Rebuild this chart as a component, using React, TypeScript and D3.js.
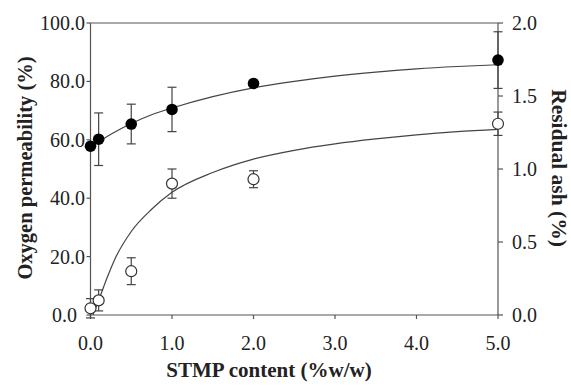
import { useEffect, useRef } from 'react';
import * as d3 from 'd3';

// STMP content (%w/w) for the measured samples
const stmp = [0, 0.1, 0.5, 1.0, 2.0, 5.0];
// Oxygen permeability (%), left axis
const oxygenPerm = [57.8, 60.2, 65.4, 70.4, 79.3, 87.3];
const oxygenErr = [0.8, 9.0, 6.8, 7.6, 1.0, 9.7];
// Residual ash (%), right axis
const residualAsh = [0.046, 0.1, 0.3, 0.9, 0.93, 1.31];
const ashErr = [0.066, 0.072, 0.092, 0.1, 0.058, 0.08];

// fitted curves
const oxygenFitX = [0, 0.1, 0.25, 0.5, 0.75, 1, 1.5, 2, 2.5, 3, 3.5, 4, 4.5, 5];
const oxygenFitY = [57.3, 59.3, 61.9, 65.6, 68.6, 70.9, 74.8, 77.8, 80.0, 81.8, 83.2, 84.3, 85.1, 85.7];
const ashFitX = [0.03, 0.1, 0.2, 0.3, 0.5, 0.75, 1, 1.5, 2, 2.5, 3, 3.5, 4, 4.5, 5];
const ashFitY = [0, 0.1, 0.25, 0.384, 0.572, 0.724, 0.84, 0.976, 1.068, 1.128, 1.172, 1.206, 1.234, 1.256, 1.272];

const xTicks = [0, 1, 2, 3, 4, 5];
const leftTicks = [0, 20, 40, 60, 80, 100];
const rightTicks = [0, 0.5, 1.0, 1.5, 2.0];

const WIDTH = 571;
const HEIGHT = 388;
const FONT = "'Liberation Serif', 'DejaVu Serif', 'Times New Roman', Times, serif";
const AXIS = '#555';
const INK = '#222';

export default function App() {
  const svgRef = useRef<SVGSVGElement>(null);

  useEffect(() => {
    if (!svgRef.current) return;
    const svg = d3.select(svgRef.current);
    svg.selectAll('*').remove();

    const left = 90.5, right = 498, top = 23, bottom = 315;
    const x = d3.scaleLinear().domain([0, 5]).range([left, right]);
    const yL = d3.scaleLinear().domain([0, 100]).range([bottom, top]);
    const yR = d3.scaleLinear().domain([0, 2]).range([bottom, top]);

    // frame
    const frame = svg.append('g').attr('stroke', AXIS).attr('stroke-width', 1.2).attr('fill', 'none');
    frame.append('line').attr('x1', left).attr('x2', right).attr('y1', top).attr('y2', top);
    frame.append('line').attr('x1', left).attr('x2', right).attr('y1', bottom).attr('y2', bottom);
    frame.append('line').attr('x1', left).attr('x2', left).attr('y1', top).attr('y2', bottom);
    frame.append('line').attr('x1', right).attr('x2', right).attr('y1', top).attr('y2', bottom);

    const label = (sel: d3.Selection<SVGTextElement, unknown, null, undefined>, size: number, bold = false) =>
      sel.style('font-family', FONT)
        .style('font-size', `${size}px`)
        .style('font-weight', bold ? '700' : '400')
        .attr('fill', INK);

    // bottom axis
    const xAxis = svg.append('g');
    xTicks.forEach(t => {
      xAxis.append('line')
        .attr('x1', x(t)).attr('x2', x(t))
        .attr('y1', bottom).attr('y2', bottom + 4)
        .attr('stroke', AXIS).attr('stroke-width', 1.2);
      label(xAxis.append('text'), 20)
        .attr('x', x(t)).attr('y', 350)
        .attr('text-anchor', 'middle')
        .text(d3.format('.1f')(t));
    });

    // left axis
    const yAxisL = svg.append('g');
    leftTicks.forEach(t => {
      yAxisL.append('line')
        .attr('x1', left - 4).attr('x2', left)
        .attr('y1', yL(t)).attr('y2', yL(t))
        .attr('stroke', AXIS).attr('stroke-width', 1.2);
      label(yAxisL.append('text'), 20)
        .attr('x', t === 0 ? 77 : 85).attr('y', yL(t))
        .attr('dy', '0.35em')
        .attr('text-anchor', 'end')
        .text(d3.format('.1f')(t));
    });

    // right axis
    const yAxisR = svg.append('g');
    rightTicks.forEach(t => {
      yAxisR.append('line')
        .attr('x1', right).attr('x2', right + 5)
        .attr('y1', yR(t)).attr('y2', yR(t))
        .attr('stroke', AXIS).attr('stroke-width', 1.2);
      label(yAxisR.append('text'), 20)
        .attr('x', right + 14).attr('y', yR(t))
        .attr('dy', '0.35em')
        .attr('text-anchor', 'start')
        .text(d3.format('.1f')(t));
    });

    // axis titles
    label(svg.append('text'), 20.5, true)
      .attr('transform', `translate(32, 168) rotate(-90)`)
      .attr('text-anchor', 'middle')
      .text('Oxygen permeability (%)');
    label(svg.append('text'), 21.5, true)
      .attr('transform', `translate(552, 168) rotate(90)`)
      .attr('text-anchor', 'middle')
      .text('Residual ash (%)');
    label(svg.append('text'), 21, true)
      .attr('x', 269).attr('y', 377)
      .attr('text-anchor', 'middle')
      .text('STMP content (%w/w)');

    // fitted curves
    const fitO = oxygenFitX.map((v, i) => [v, oxygenFitY[i]] as [number, number]);
    const fitA = ashFitX.map((v, i) => [v, ashFitY[i]] as [number, number]);
    svg.append('path')
      .attr('d', d3.line<[number, number]>().x(d => x(d[0])).y(d => yL(d[1])).curve(d3.curveMonotoneX)(fitO) || '')
      .attr('fill', 'none').attr('stroke', '#444').attr('stroke-width', 1.2);
    svg.append('path')
      .attr('d', d3.line<[number, number]>().x(d => x(d[0])).y(d => yR(d[1])).curve(d3.curveMonotoneX)(fitA) || '')
      .attr('fill', 'none').attr('stroke', '#444').attr('stroke-width', 1.2);

    // error bars
    const drawErr = (vals: number[], errs: number[], y: d3.ScaleLinear<number, number>) => {
      const g = svg.append('g').attr('stroke', '#444').attr('stroke-width', 1.2);
      stmp.forEach((s, i) => {
        const cx = x(s);
        const y1 = y(vals[i] + errs[i]);
        const y2 = y(vals[i] - errs[i]);
        g.append('line').attr('x1', cx).attr('x2', cx).attr('y1', y1).attr('y2', y2);
        g.append('line').attr('x1', cx - 4.5).attr('x2', cx + 4.5).attr('y1', y1).attr('y2', y1);
        g.append('line').attr('x1', cx - 4.5).attr('x2', cx + 4.5).attr('y1', y2).attr('y2', y2);
      });
    };
    drawErr(oxygenPerm, oxygenErr, yL);
    drawErr(residualAsh, ashErr, yR);

    // markers
    svg.append('g').selectAll('circle')
      .data(stmp)
      .enter()
      .append('circle')
      .attr('cx', d => x(d))
      .attr('cy', (d, i) => yL(oxygenPerm[i]))
      .attr('r', 5.8)
      .attr('fill', '#000');
    svg.append('g').selectAll('circle')
      .data(stmp)
      .enter()
      .append('circle')
      .attr('cx', d => x(d))
      .attr('cy', (d, i) => yR(residualAsh[i]))
      .attr('r', 5.5)
      .attr('fill', '#fff')
      .attr('stroke', '#333')
      .attr('stroke-width', 1.2);
  }, []);

  return (
    <svg
      ref={svgRef}
      width={WIDTH}
      height={HEIGHT}
      style={{ position: 'absolute', left: 0, top: 0, background: '#fff' }}
    />
  );
}
